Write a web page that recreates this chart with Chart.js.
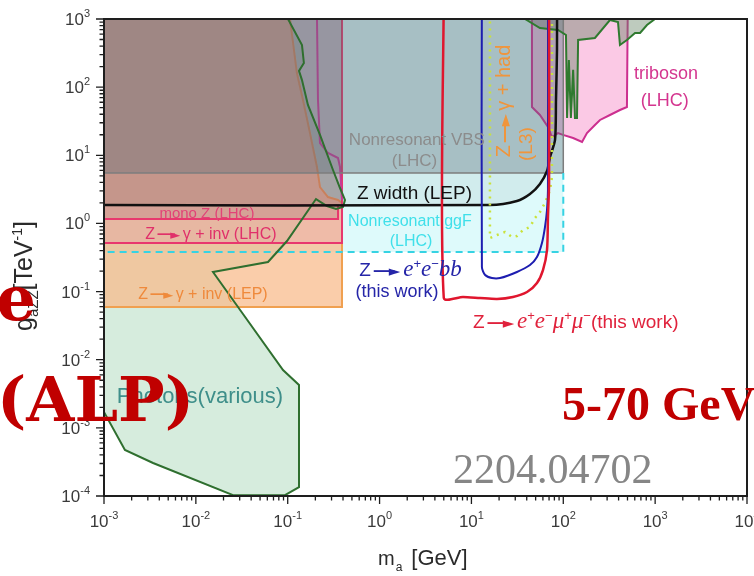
<!DOCTYPE html>
<html>
<head>
<meta charset="utf-8">
<script src="https://cdn.jsdelivr.net/npm/chart.js@4.4.1/dist/chart.umd.min.js"></script>
<style>
  html, body { margin: 0; padding: 0; background: #fff; overflow: hidden; }
  canvas { display: block; }
</style>
</head>
<body>
<canvas id="c" width="754" height="576"></canvas>
<script>
// ALP–Z coupling limits: m_a [GeV] vs g_aZZ [TeV^-1]
const xDecades = [-3, -2, -1, 0, 1, 2, 3, 4];
const yDecades = [-4, -3, -2, -1, 0, 1, 2, 3];

// Nonresonant ggF (LHC)
const ggFBox  = [[6e-4,0.381],[100,0.381],[100,3000],[6e-4,3000],[6e-4,0.381]];
const ggFEdge = [[6e-4,0.381],[100,0.381],[100,5.49]];
// Nonresonant VBS (LHC)
const vbsBox  = [[6e-4,5.49],[100,5.49],[100,3000],[6e-4,3000],[6e-4,5.49]];
// Z width (LEP)
const zWidthEdge = [[6e-4,1.86],[15.9,1.86],[31.3,2.13],[43.4,2.70],[55.7,3.79],[66.5,5.88],
                    [71.7,9.44],[81.3,16.8],[83.3,64.7],[85.4,351],[85.5,3000]];
// mono Z (LHC), Z -> gamma + inv (LHC)
const monoZBox  = [[6e-4,1.16],[0.353,1.16],[0.353,1.86],[6e-4,1.86],[6e-4,1.16]];
const lhcInvBox = [[6e-4,0.516],[0.39,0.516],[0.39,3000],[6e-4,3000],[6e-4,0.516]];
// Z -> gamma + inv (LEP)
const lepInv = [[0.1059,3000],[0.1059,1000],[0.126,161],[0.1467,64.7],[0.1748,21.2],[0.2083,6.73],
                [0.2246,3.42],[0.2745,2.44],[0.3527,2.21],[0.39,2.0],[0.39,0.0593],[6e-4,0.0593],
                [6e-4,3000],[0.1059,3000]];
// Photons (various), low and high mass
const photonsLow = [[0.1007,3000],[0.1007,1000],[0.143,415],[0.150,226],[0.1327,173],[0.143,127],
                    [0.166,54.7],[0.2246,19.9],[0.3112,6.08],[0.3709,3.31],[0.4204,2.21],[0.3997,1.74],
                    [0.3355,1.63],[0.2676,1.80],[0.2032,2.28],[0.0982,0.552],[0.0610,0.272],
                    [0.01537,0.194],[0.0326,0.0469],[0.0889,7.06e-3],[0.1327,4.26e-3],[0.1327,1.35e-4],
                    [0.0934,1.03e-4],[0.0254,1.03e-4],[3.42e-3,3.05e-4],[1.69e-3,4.73e-4],[1e-3,1.71e-3],
                    [6e-4,3.5e-3],[6e-4,3000],[0.1007,3000]];
const photonsHigh = [[36,3000],[38.3,1000],[55.7,737],[87.5,690],[107,583],[110,35.3],[115,250],
                     [121,35.3],[128,179],[134,35.3],[141,35.3],[145,492],[221,526],[322,967],
                     [394,904],[414,415],[493,492],[604,624],[685,624],[815,816],[996,1000],
                     [1100,3000],[36,3000]];
// triboson (LHC)
const tribosonLow  = [[6e-4,1.86],[0.39,1.86],[0.39,3000],[6e-4,3000],[6e-4,1.86]];
const tribosonLowEdge = [[0.2083,3000],[0.2083,1000],[0.2135,64.7],[0.2246,15.1],[0.2745,10.8],
                         [0.3527,9.12],[0.3709,6.73],[0.39,2.21]];
const tribosonHigh = [[45.6,3000],[45.6,51.1],[55.7,39.0],[68.1,26.0],[75.3,18.5],[87.5,21.2],
                      [99.3,19.9],[128,17.9],[160,15.7],[181,21.2],[221,27.8],[251,33.0],[322,39.0],
                      [414,46.2],[493,51.1],[506,3000],[45.6,3000]];
// Z -> gamma + had (L3)
const l3Had = [[15.9,3000],[15.9,0.611],[19.0,0.676],[23.2,0.748],[27.7,0.632],[31.3,0.654],
               [36.4,0.800],[43.4,0.885],[49.2,1.20],[55.7,1.47],[63.2,2.0],[71.7,3.09],
               [75.3,4.80],[75.3,3000]];
// this work: Z -> e+e- bb and Z -> e+e- mu+mu-
const eebb = [[13.0,3000],[13.0,0.229],[14.1,0.175],[16.7,0.158],[20.5,0.158],[31.3,0.194],
              [43.4,0.245],[51.7,0.321],[58.6,0.516],[63.2,0.885],[66.5,1.57],[68.1,3.09],[68.1,3000]];
const eemumu = [[5.0,3000],[5.0,0.0804],[8.09,0.0832],[12.4,0.0804],[19.0,0.0778],[28.3,0.0832],
                [40.3,0.0986],[51.7,0.1336],[60.1,0.207],[66.5,0.407],[68.1,1.24],[70,3.92],[70,3000]];

const pts = arr => arr.map(([x, y]) => ({ x, y }));

function area(data, bg, border, width, order) {
  return { data: pts(data), fill: 'shape', backgroundColor: bg,
           borderColor: border || 'rgba(0,0,0,0)', borderWidth: border ? width : 0,
           order, clip: 0, pointRadius: 0, tension: 0 };
}
function edge(data, color, width, order, extra) {
  return Object.assign({ data: pts(data), fill: false, borderColor: color, borderWidth: width,
           order, clip: 0, pointRadius: 0, tension: 0 }, extra || {});
}

const datasets = [
  area(ggFBox, 'rgba(0,215,225,0.13)', null, 0, 30),
  area(zWidthEdge.concat([[6e-4,3000],[6e-4,1.86]]), 'rgba(90,110,110,0.10)', null, 0, 29),
  area(tribosonHigh, 'rgba(245,120,190,0.40)', '#cc2f8f', 2, 28),
  area(photonsLow, 'rgba(70,170,100,0.22)', null, 0, 27),
  area(photonsHigh, 'rgba(100,130,100,0.42)', null, 0, 26),
  area(lepInv, 'rgba(248,188,142,0.75)', '#f0a050', 2, 25),
  area(lhcInvBox, 'rgba(225,100,170,0.16)', '#e8386e', 2, 24),
  area(monoZBox, 'rgba(138,73,102,0.20)', '#e8386e', 2, 23),
  area(tribosonLow, 'rgba(120,80,90,0.30)', null, 0, 22),
  edge(tribosonLowEdge, '#c73a96', 2, 21),
  area(vbsBox, 'rgba(88,105,117,0.35)', '#7d7d7d', 1.5, 20),
  edge(ggFEdge, '#36d3e3', 2, 12, { borderDash: [7, 5] }),
  edge(photonsLow, '#2f6f2f', 2, 10),
  edge(photonsHigh, '#2f7a2f', 2, 10),
  edge(zWidthEdge, '#111111', 2.5, 8, { tension: 0.25 }),
  edge(l3Had, '#c9e23c', 2.5, 7, { borderDash: [2, 5] }),
  edge(eebb, '#1d1db0', 2, 5, { tension: 0.25 }),
  edge(eemumu, '#e0162e', 2.5, 4, { tension: 0.25 })
];

const SANS = '"Liberation Sans", Arial, sans-serif';
const S = n => `${n}px ${SANS}`;
const I = n => `italic ${n}px "Liberation Serif", "Times New Roman", serif`;
// "—►" style reaction arrow
const ARROW = n => [
  { t: '\u2014', f: `bold ${n}px ${SANS}`, sx: 1.1, dx: n * 0.15 },
  { t: '\u25BA', f: `${Math.round(n * 0.8)}px "DejaVu Sans", sans-serif`, dx: -n * 0.3, dy: 0 },
  { t: '', f: S(n), dx: n * 0.15 }
];
const sup = (t, n) => ({ t, f: S(n || 12), dy: -8 });

// region captions, anchored in data coordinates
const captions = [
  { x: 2.55, y: 17.3, color: '#8c8c8c', align: 'center', parts: [{ t: 'Nonresonant VBS', f: S(17) }] },
  { x: 2.4, y: 8.53, color: '#8c8c8c', align: 'center', parts: [{ t: '(LHC)', f: S(17) }] },
  { x: 2.4, y: 2.79, color: '#111111', align: 'center', parts: [{ t: 'Z width (LEP)', f: S(19) }] },
  { x: 2.14, y: 1.12, color: '#3fe0ea', align: 'center', parts: [{ t: 'Nonresonant ggF', f: S(16) }] },
  { x: 2.2, y: 0.571, color: '#3fe0ea', align: 'center', parts: [{ t: '(LHC)', f: S(16) }] },
  { x: 0.60, y: 0.207, color: '#2525a8', align: 'left',
    parts: [{ t: 'Z', f: S(19) }, ...ARROW(19), { t: 'e', f: I(23) }, sup('+', 13), { t: 'e', f: I(23) },
            sup('\u2212', 13), { t: 'bb', f: I(23) }] },
  { x: 1.55, y: 0.102, color: '#2525a8', align: 'center', parts: [{ t: '(this work)', f: S(18) }] },
  { x: 10.4, y: 0.0357, color: '#e0223c', align: 'left',
    parts: [{ t: 'Z', f: S(19) }, ...ARROW(19), { t: 'e', f: I(23) }, sup('+', 13), { t: 'e', f: I(23) },
            sup('\u2212', 13), { t: '\u03bc', f: I(23) }, sup('+', 13), { t: '\u03bc', f: I(23) },
            sup('\u2212', 13), { t: '(this work)', f: S(19) }] },
  { x: 1312, y: 161, color: '#d4358f', align: 'center', parts: [{ t: 'triboson', f: S(18) }] },
  { x: 1270, y: 64.7, color: '#d4358f', align: 'center', parts: [{ t: '(LHC)', f: S(18) }] },
  { x: 0.0132, y: 1.47, color: '#e24377', align: 'center', parts: [{ t: 'mono Z (LHC)', f: S(15) }] },
  { x: 0.0146, y: 0.723, color: '#e0306a', align: 'center',
    parts: [{ t: 'Z', f: S(16) }, ...ARROW(16), { t: '\u03b3 + inv (LHC)', f: S(16) }] },
  { x: 0.01196, y: 0.0953, color: '#ef8a3c', align: 'center',
    parts: [{ t: 'Z', f: S(16) }, ...ARROW(16), { t: '\u03b3 + inv (LEP)', f: S(16) }] },
  { x: 0.0111, y: 2.84e-3, color: '#3f8f8a', align: 'center', parts: [{ t: 'Photons(various)', f: S(22) }] },
  { x: 22.6, y: 62.6, color: '#f0953c', align: 'center', rotate: true,
    parts: [{ t: 'Z', f: S(20) }, ...ARROW(20), { t: '\u03b3 + had', f: S(20) }] },
  { x: 39.3, y: 14.6, color: '#f0953c', align: 'center', rotate: true, parts: [{ t: '(L3)', f: S(19) }] }
];

function rich(ctx, parts, x, y, align) {
  let w = 0;
  for (const p of parts) { ctx.font = p.f; w += (p.dx || 0) + ctx.measureText(p.t).width * (p.sx || 1); }
  let cx = align === 'center' ? x - w / 2 : align === 'right' ? x - w : x;
  ctx.textAlign = 'left';
  ctx.textBaseline = 'alphabetic';
  for (const p of parts) {
    ctx.font = p.f;
    cx += p.dx || 0;
    const pw = ctx.measureText(p.t).width * (p.sx || 1);
    if (p.t) {
      ctx.save();
      ctx.translate(cx, y + (p.dy || 0));
      ctx.scale(p.sx || 1, 1);
      ctx.fillText(p.t, 0, 0);
      ctx.restore();
    }
    cx += pw;
  }
}

const decor = {
  id: 'decor',
  afterDatasetsDraw(chart) {
    const { ctx, chartArea: a, scales: { x, y } } = chart;
    ctx.save();

    // captions
    for (const c of captions) {
      const px = x.getPixelForValue(c.x), py = y.getPixelForValue(c.y);
      ctx.fillStyle = c.color;
      ctx.save();
      ctx.translate(px, py);
      if (c.rotate) ctx.rotate(-Math.PI / 2);
      rich(ctx, c.parts, 0, 6, c.align);
      ctx.restore();
    }

    // frame
    ctx.strokeStyle = '#1e1e1e';
    ctx.lineWidth = 2;
    ctx.strokeRect(a.left, a.top, a.right - a.left, a.bottom - a.top);

    // tick marks
    ctx.lineWidth = 1.3;
    ctx.beginPath();
    for (let i = 0; i < xDecades.length; i++) {
      const d = Math.pow(10, xDecades[i]);
      const p = x.getPixelForValue(d);
      ctx.moveTo(p, a.bottom); ctx.lineTo(p, a.bottom + 8);
      if (i < xDecades.length - 1) for (let m = 2; m <= 9; m++) {
        const q = x.getPixelForValue(m * d);
        ctx.moveTo(q, a.bottom); ctx.lineTo(q, a.bottom + 4.5);
      }
    }
    for (let i = 0; i < yDecades.length; i++) {
      const d = Math.pow(10, yDecades[i]);
      const p = y.getPixelForValue(d);
      ctx.moveTo(a.left, p); ctx.lineTo(a.left - 8, p);
      if (i < yDecades.length - 1) for (let m = 2; m <= 9; m++) {
        const q = y.getPixelForValue(m * d);
        ctx.moveTo(a.left, q); ctx.lineTo(a.left - 4.5, q);
      }
    }
    ctx.stroke();

    // tick labels
    ctx.fillStyle = '#3a3a3a';
    for (const e of xDecades) {
      const p = x.getPixelForValue(Math.pow(10, e));
      rich(ctx, [{ t: '10', f: S(17) }, { t: String(e), f: S(11), dy: -8 }], p, 527, 'center');
    }
    for (const e of yDecades) {
      const p = y.getPixelForValue(Math.pow(10, e));
      rich(ctx, [{ t: '10', f: S(17) }, { t: String(e), f: S(11), dy: -8 }], 90, p + 6, 'right');
    }

    // axis titles
    ctx.fillStyle = '#2a2a2a';
    rich(ctx, [{ t: 'm', f: S(20) }, { t: 'a', f: S(12), dy: 6, dx: 1 }, { t: '[GeV]', f: S(22), dx: 9 }], 378, 565, 'left');
    ctx.save();
    ctx.translate(32, 331);
    ctx.rotate(-Math.PI / 2);
    rich(ctx, [{ t: 'g', f: S(25) }, { t: 'aZZ', f: S(15), dy: 6 }, { t: '[TeV', f: S(25) },
               { t: '-1', f: S(14), dy: -10 }, { t: ']', f: S(25) }], 0, 0, 'left');
    ctx.restore();
    ctx.restore();
  },
  afterDraw(chart) {
    const { ctx } = chart;
    ctx.save();
    ctx.textBaseline = 'alphabetic';
    ctx.fillStyle = '#c00000';
    ctx.font = 'bold 62px "DejaVu Serif", serif';
    ctx.textAlign = 'right';
    ctx.fillText('e', 36, 320);
    ctx.textAlign = 'left';
    ctx.fillText('(ALP)', -3, 421);
    ctx.font = 'bold 48px "Liberation Serif", "Times New Roman", serif';
    ctx.fillText('5-70 GeV', 562, 420);
    ctx.fillStyle = '#868686';
    ctx.font = '42px "Liberation Serif", "Times New Roman", serif';
    ctx.fillText('2204.04702', 453, 483);
    ctx.restore();
  }
};

new Chart(document.getElementById('c'), {
  type: 'line',
  data: { datasets },
  options: {
    responsive: false,
    animation: false,
    devicePixelRatio: 1,
    layout: { padding: { left: 0, right: 7, top: 19, bottom: 0 } },
    plugins: { legend: { display: false }, tooltip: { enabled: false } },
    scales: {
      x: { type: 'logarithmic', min: 1e-3, max: 1e4,
           ticks: { display: false }, grid: { display: false }, border: { display: false },
           afterFit: s => { s.height = 80; } },
      y: { type: 'logarithmic', min: 1e-4, max: 1e3,
           ticks: { display: false }, grid: { display: false }, border: { display: false },
           afterFit: s => { s.width = 104; } }
    }
  },
  plugins: [decor]
});
</script>
</body>
</html>
